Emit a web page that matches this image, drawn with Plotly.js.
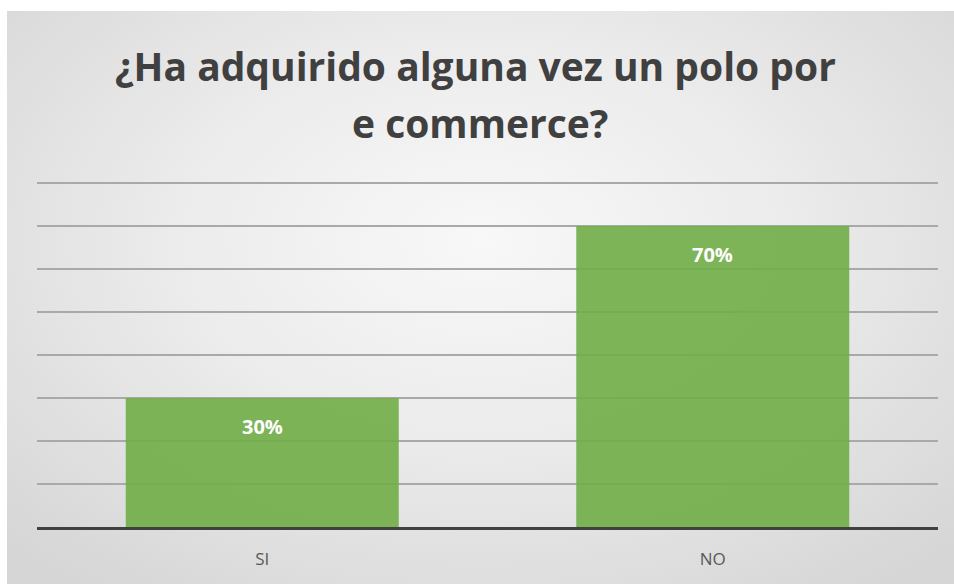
<!DOCTYPE html>
<html><head><meta charset="utf-8">
<script src="https://cdn.plot.ly/plotly-3.0.1.min.js"></script>
<style>
html,body{margin:0;padding:0;background:#fff;width:954px;height:584px;overflow:hidden;}
#chart{position:absolute;left:7px;top:11px;width:947px;height:573px;
background:radial-gradient(ellipse 70% 75% at 50% 40%, #f8f8f8 0%, #ececec 45%, #d6d6d6 100%);}
</style></head><body>
<div id="chart"></div>
<script>
const categories = ['SI', 'NO'];
const values = [0.30, 0.70];
const labels = ['30%', '70%'];
const titleLines = ['¿Ha adquirido alguna vez un polo por', 'e commerce?'];

const trace = {
  type: 'bar', x: categories, y: values,
  marker: {color: 'rgba(112,173,71,0.9)', line: {width: 0}},
  hoverinfo: 'none'
};
const titleFont = {family: 'Open Sans, sans-serif', size: 39, color: '#404040'};
const titleY = [1.333, 1.168];
const titleX = [0.487, 0.492];
const annotations = categories.map((c, i) => ({
  x: c, y: values[i], xref: 'x', yref: 'y', text: '<b>' + labels[i] + '</b>',
  showarrow: false, yanchor: 'middle', yshift: -28,
  font: {family: 'Open Sans, sans-serif', size: 20, color: '#ffffff'}
})).concat(titleLines.map((t, i) => ({
  x: titleX[i], y: titleY[i], xref: 'paper', yref: 'paper', text: '<b>' + t + '</b>',
  showarrow: false, xanchor: 'center', yanchor: 'middle', font: titleFont
})));
const layout = {
  width: 947, height: 573,
  paper_bgcolor: 'rgba(0,0,0,0)', plot_bgcolor: 'rgba(0,0,0,0)',
  margin: {l: 30, r: 16, t: 170, b: 57},
  bargap: 0.394,
  xaxis: {showgrid: false, showline: true, linecolor: '#404040', linewidth: 2.5,
    ticks: '', ticklabelstandoff: 15,
    tickfont: {family: 'Open Sans, sans-serif', size: 17, color: '#595959'}},
  yaxis: {range: [0, 0.8047], tick0: 0, dtick: 0.1, showticklabels: false, zeroline: false,
    gridcolor: '#a9a9a9', gridwidth: 1.2, showline: false},
  annotations: annotations,
  showlegend: false
};
Plotly.newPlot('chart', [trace], layout, {displayModeBar: false, staticPlot: true});
</script></body></html>
